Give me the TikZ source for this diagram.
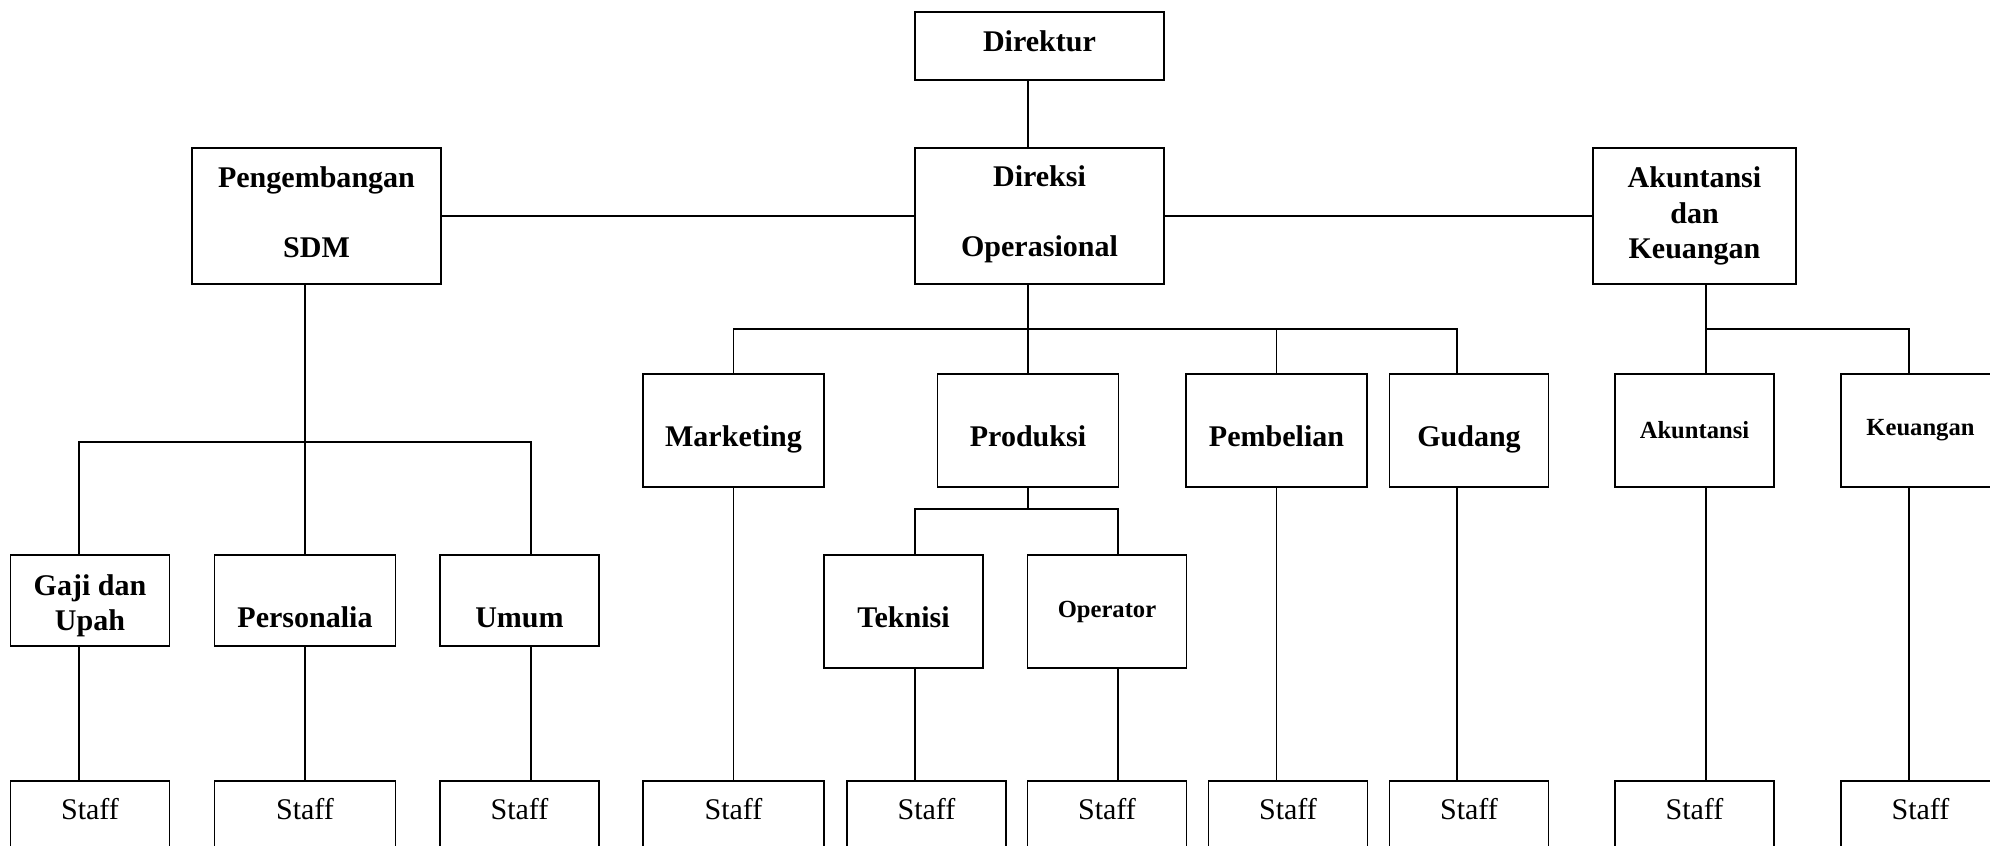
\documentclass[tikz,border=0pt]{standalone}
\usepackage{fontspec}
\setmainfont{Liberation Serif}
\usetikzlibrary{calc}

\tikzset{
  unit/.style={draw, line width=0.5pt, inner sep=0pt, align=center,
    font=\fontsize{8.54}{10.1}\selectfont\bfseries},
  smalltxt/.style={font=\fontsize{7}{8.4}\selectfont\bfseries},
  lowtxt/.style={text height=0.32cm, text depth=0cm},
  lowertxt/.style={text height=0.53cm, text depth=0cm},
  narrow/.style={minimum width=1.59cm},
  wide/.style={minimum width=1.81cm},
  staff/.style={draw, line width=0.5pt, anchor=north, inner sep=0pt,
    text height=0.39cm, text depth=0.9cm, font=\fontsize{8.54}{10.1}\selectfont},
  link/.style={line width=0.45pt}
}

\begin{document}
\begin{tikzpicture}[x=0.01cm, y=-0.01cm]
\useasboundingbox (0,0) rectangle (1990,846);
\clip (0,0) rectangle (1990,846);

% pimpinan
\node[unit, text depth=0.1cm, minimum width=2.49cm, minimum height=0.68cm] (dir) at (1039.5,46) {Direktur};
\node[unit, minimum width=2.49cm, minimum height=1.36cm] (sdm) at (316.5,216) {Pengembangan\\[9.8pt]SDM\rule[-0.08cm]{0pt}{0pt}};
\node[unit, minimum width=2.49cm, minimum height=1.36cm] (ops) at (1039.5,216) {Direksi\\[9.8pt]Operasional\rule[-0.1cm]{0pt}{0pt}};
\node[unit, minimum width=2.03cm, minimum height=1.36cm] (akk) at (1694.5,216) {Akuntansi\\dan\\Keuangan};

% bagian
\node[unit, narrow, minimum height=0.91cm] (gaji) at (90,600.5) {\rule{0pt}{0.31cm}Gaji dan\\Upah};
\node[unit, wide, lowertxt, minimum height=0.91cm] (pers) at (305,600.5) {Personalia};
\node[unit, narrow, lowertxt, minimum height=0.91cm] (umum) at (519.5,600.5) {Umum};
\node[unit, wide, lowtxt, minimum height=1.13cm] (mkt) at (733.5,430.5) {Marketing};
\node[unit, wide, lowtxt, minimum height=1.13cm] (prod) at (1028,430.5) {Produksi};
\node[unit, wide, lowtxt, minimum height=1.13cm] (beli) at (1276.5,430.5) {Pembelian};
\node[unit, narrow, lowtxt, minimum height=1.13cm] (gud) at (1469,430.5) {Gudang};
\node[unit, narrow, smalltxt, minimum height=1.13cm] (akun) at (1694.5,430.5) {Akuntansi};
\node[unit, narrow, smalltxt, minimum height=1.13cm] (keu) at (1920.5,430.5) {Keuangan};
\node[unit, narrow, lowtxt, minimum height=1.13cm] (tek) at (903.5,611.5) {Teknisi};
\node[unit, narrow, smalltxt, minimum height=1.13cm] (opr) at (1107,611.5) {Operator};

% staff
\foreach \n/\x/\w in {s1/90/narrow, s2/305/wide, s3/519.5/narrow, s4/733.5/wide,
    s5/926.5/narrow, s6/1107/narrow, s7/1288/narrow, s8/1469/narrow,
    s9/1694.5/narrow, s10/1920.5/narrow}
  \node[staff, \w] (\n) at (\x,780) {Staff};

% garis atas
\draw[link] (sdm.east) -- (ops.west);
\draw[link] (ops.east) -- (akk.west);
\draw[link] (dir.south -| prod.north) -- (ops.north -| prod.north);

% SDM
\coordinate (busA) at (305,442);
\draw[link] (sdm.south -| pers.north) -- (pers.north);
\draw[link] ($(gaji.north)+(-11,0)$) |- (busA) -| ($(umum.north)+(11.5,0)$);
\draw[link] ($(gaji.south)+(-11,0)$) -- ($(s1.north)+(-11,0)$);
\draw[link] (pers.south) -- (s2.north);
\draw[link] ($(umum.south)+(11.5,0)$) -- ($(s3.north)+(11.5,0)$);

% operasional
\coordinate (busB) at (1028,329);
\draw[link] (ops.south -| prod.north) -- (prod.north);
\draw[link] (mkt.north) |- (busB) -| ($(gud.north)+(-12,0)$);
\draw[link] (beli.north) -- (beli.north |- busB);
\draw[link] (mkt.south) -- (s4.north);
\coordinate (busC) at (1028,509);
\draw[link] (prod.south) -- (busC);
\draw[link] ($(tek.north)+(11.5,0)$) |- (busC) -| ($(opr.north)+(11,0)$);
\draw[link] ($(tek.south)+(11.5,0)$) -- ($(s5.north)+(-11.5,0)$);
\draw[link] ($(opr.south)+(11,0)$) -- ($(s6.north)+(11,0)$);
\draw[link] (beli.south) -- (beli.south |- s7.north);
\draw[link] ($(gud.south)+(-12,0)$) -- ($(s8.north)+(-12,0)$);

% akuntansi
\coordinate (busD) at (1706,329);
\draw[link] ($(akk.south)+(11.5,0)$) -- ($(akun.north)+(11.5,0)$);
\draw[link] (busD) -| ($(keu.north)+(-11.5,0)$);
\draw[link] ($(akun.south)+(11.5,0)$) -- ($(s9.north)+(11.5,0)$);
\draw[link] ($(keu.south)+(-11.5,0)$) -- ($(s10.north)+(-11.5,0)$);

\end{tikzpicture}
\end{document}
